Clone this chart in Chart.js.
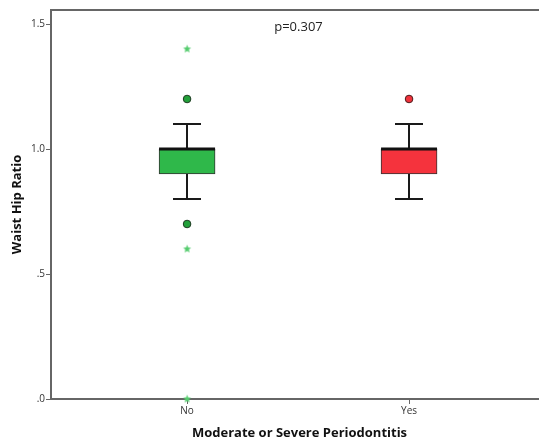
<!DOCTYPE html>
<html>
<head>
<meta charset="utf-8">
<script src="https://cdn.jsdelivr.net/npm/chart.js@4/dist/chart.umd.min.js"></script>
<style>
  html, body { margin: 0; padding: 0; background: #fff; overflow: hidden; }
  #wrap { width: 539px; height: 441px; overflow: hidden; }
  #c { display: block; }
</style>
</head>
<body>
<div id="wrap"><canvas id="c" width="553" height="441"></canvas></div>
<script>
// Groups along the x axis
const groups = ['No', 'Yes'];
const groupPos = [1, 2];

// Five-number summaries per group
const q1 = [0.9, 0.9];
const median = [1.0, 1.0];
const q3 = [1.0, 1.0];
const whiskerLow = [0.8, 0.8];
const whiskerHigh = [1.1, 1.1];

// Outliers (circles) and extreme values (stars)
const outliersNo = [1.2, 0.7];
const outliersYes = [1.2];
const extremesNo = [1.4, 0.6, 0.0];

// Y axis ticks
const yTicks = [0, 0.5, 1.0, 1.5];
const yTickLabels = ['.0', '.5', '1.0', '1.5'];

const pValueText = 'p=0.307';

const boxColors = ['#2fb84a', '#f5333d'];
const outlierFill = ['#22a03a', '#f0323c'];
const FONT = '"Open Sans", "Liberation Sans", sans-serif';

// small filled five-point star used for extreme values
function makeStar(color, r) {
  const c = document.createElement('canvas');
  const s = Math.ceil(r * 2 + 2);
  c.width = s; c.height = s;
  const g = c.getContext('2d');
  g.fillStyle = color;
  g.beginPath();
  for (let i = 0; i < 10; i++) {
    const rad = i % 2 === 0 ? r : r * 0.45;
    const a = -Math.PI / 2 + i * Math.PI / 5;
    const x = s / 2 + rad * Math.cos(a), y = s / 2 + rad * Math.sin(a);
    if (i === 0) g.moveTo(x, y); else g.lineTo(x, y);
  }
  g.closePath();
  g.fill();
  return c;
}
const starImg = makeStar('#55cc6e', 4.2);

// whiskers, caps, median lines and the p-value note, placed through the chart scales
const boxPlotLines = {
  id: 'boxPlotLines',
  beforeDatasetsDraw(chart) {
    const { ctx } = chart;
    const xs = chart.scales.x, ys = chart.scales.y;
    ctx.save();
    groupPos.forEach((gx, i) => {
      const px = Math.round(xs.getPixelForValue(gx));
      ctx.strokeStyle = '#1a1a1a';
      ctx.lineWidth = 2;
      ctx.beginPath();
      ctx.moveTo(px, ys.getPixelForValue(whiskerHigh[i]));
      ctx.lineTo(px, ys.getPixelForValue(q3[i]));
      ctx.moveTo(px, ys.getPixelForValue(q1[i]));
      ctx.lineTo(px, ys.getPixelForValue(whiskerLow[i]));
      ctx.stroke();
      [whiskerHigh[i], whiskerLow[i]].forEach(v => {
        const py = ys.getPixelForValue(v);
        ctx.beginPath();
        ctx.moveTo(px - 14, py);
        ctx.lineTo(px + 14, py);
        ctx.stroke();
      });
    });
    ctx.restore();
  },
  afterDatasetsDraw(chart) {
    const { ctx } = chart;
    const xs = chart.scales.x, ys = chart.scales.y;
    ctx.save();
    groupPos.forEach((gx, i) => {
      const px = xs.getPixelForValue(gx);
      const py = ys.getPixelForValue(median[i]);
      ctx.strokeStyle = '#111';
      ctx.lineWidth = 3;
      ctx.beginPath();
      ctx.moveTo(px - 28, py);
      ctx.lineTo(px + 28, py);
      ctx.stroke();
    });
    const a = chart.chartArea;
    ctx.fillStyle = '#222';
    ctx.font = '13px ' + FONT;
    ctx.textAlign = 'center';
    ctx.textBaseline = 'middle';
    ctx.fillText(pValueText, (a.left + a.right) / 2 - 1, a.top + 17);
    ctx.restore();
  },
  afterDraw(chart) {
    // the frame stays open on the right: keep that side of the plot area clear
    const { ctx } = chart;
    const a = chart.chartArea;
    const x0 = chart.scales.x.getPixelForValue(groupPos[groupPos.length - 1]) + 60;
    ctx.save();
    ctx.fillStyle = '#fff';
    ctx.fillRect(x0, a.top + 2, chart.width - x0, a.bottom - a.top - 4);
    ctx.restore();
  }
};

new Chart(document.getElementById('c'), {
  type: 'bar',
  data: {
    datasets: [
      {
        type: 'bar',
        data: groupPos.map((gx, i) => ({ x: gx, y: [q1[i], q3[i]] })),
        backgroundColor: boxColors,
        borderColor: '#333',
        borderWidth: 1,
        borderSkipped: false,
        barThickness: 56,
        order: 2
      },
      {
        type: 'scatter',
        data: outliersNo.map(v => ({ x: groupPos[0], y: v })),
        backgroundColor: outlierFill[0],
        borderColor: '#1e3a22',
        borderWidth: 1,
        pointRadius: 3.8,
        showLine: false,
        clip: false,
        order: 1
      },
      {
        type: 'scatter',
        data: outliersYes.map(v => ({ x: groupPos[1], y: v })),
        backgroundColor: outlierFill[1],
        borderColor: '#4a1a1a',
        borderWidth: 1,
        pointRadius: 3.8,
        showLine: false,
        clip: false,
        order: 1
      },
      {
        type: 'scatter',
        data: extremesNo.map(v => ({ x: groupPos[0], y: v })),
        pointStyle: starImg,
        backgroundColor: '#55cc6e',
        borderColor: '#55cc6e',
        showLine: false,
        clip: false,
        order: 0
      }
    ]
  },
  options: {
    responsive: false,
    animation: false,
    events: [],
    layout: { padding: { top: 10, right: 0, left: 0, bottom: 0 } },
    plugins: { legend: { display: false }, tooltip: { enabled: false } },
    scales: {
      x: {
        type: 'linear',
        position: 'bottom',
        offset: false,
        min: 0.387,
        max: 2.626,
        afterBuildTicks(s) { s.ticks = groupPos.map(v => ({ value: v })); },
        afterFit(s) { s.height = 42; s.paddingLeft = 0; s.paddingRight = 0; },
        ticks: {
          autoSkip: false,
          maxRotation: 0,
          padding: 1,
          color: '#333',
          font: { size: 10, family: FONT },
          callback(v) { const i = groupPos.indexOf(v); return i >= 0 ? groups[i] : ''; }
        },
        grid: { display: true, offset: false, drawOnChartArea: false, drawTicks: true, tickLength: 5, color: '#666', lineWidth: 1 },
        border: { display: true, color: '#666', width: 2 },
        title: {
          display: true,
          text: 'Moderate or Severe Periodontitis',
          color: '#111',
          font: { size: 13, weight: 'bold', family: FONT },
          padding: { top: 4, bottom: 0 }
        }
      },
      xTop: {
        axis: 'x',
        type: 'linear',
        position: 'top',
        offset: false,
        min: 0, max: 1,
        afterFit(s) { s.height = 0; s.paddingLeft = 0; s.paddingRight = 0; },
        ticks: { display: false },
        grid: { display: false, offset: false },
        border: { display: true, color: '#666', width: 2 }
      },
      y: {
        type: 'linear',
        min: 0,
        max: 1.556,
        afterBuildTicks(s) { s.ticks = yTicks.map(v => ({ value: v })); },
        afterFit(s) { s.width = 51; s.paddingTop = 0; s.paddingBottom = 0; },
        ticks: {
          padding: 1,
          color: '#333',
          font: { size: 10, family: FONT },
          callback(v) { const i = yTicks.indexOf(v); return i >= 0 ? yTickLabels[i] : ''; }
        },
        grid: { display: true, drawOnChartArea: false, drawTicks: true, tickLength: 5, color: '#666', lineWidth: 1 },
        border: { display: true, color: '#666', width: 2 },
        title: {
          display: true,
          text: 'Waist Hip Ratio',
          color: '#111',
          font: { size: 13, weight: 'bold', family: FONT },
          padding: { top: 9, bottom: 0 }
        }
      }
    }
  },
  plugins: [boxPlotLines]
});
</script>
</body>
</html>
